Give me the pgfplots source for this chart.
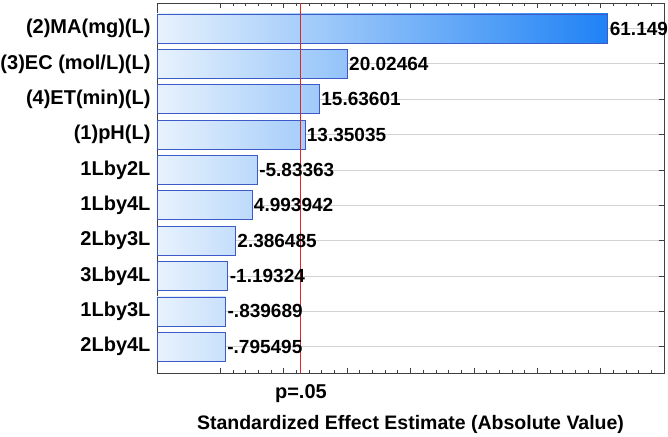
\documentclass[border=0pt]{standalone}
\usepackage{pgfplots}
\pgfplotsset{compat=1.18}
\usepackage{fontspec}
\setmainfont{Liberation Sans}
\definecolor{bleft}{RGB}{232,242,253}
\definecolor{bend}{RGB}{30,130,245}
\definecolor{bedge}{RGB}{60,90,200}
\definecolor{pline}{RGB}{220,40,40}
\newcommand\lfont{\fontsize{19}{22}\selectfont\bfseries}
\newcommand\tfont{\fontsize{20}{23}\selectfont\bfseries}
% #1 value (abs), #2 category position, #3 gradient percent, #4 label
\newcommand\effbar[4]{%
  \addplot[xbar, bar width=29pt, bar shift=0pt, draw=bedge, line width=0.9pt,
    left color=bleft, right color=bend!#3!bleft,
    point meta=explicit symbolic, nodes near coords,
    every node near coord/.append style={font=\lfont, text=black, anchor=west, inner sep=1.5pt}]
    table[x expr=\thisrow{v}+10, y=y, meta=lab, row sep=\\]{v y lab\\ #1 #2 #4\\};}
\begin{document}
\begin{tikzpicture}
\begin{axis}[at={(0,0)}, anchor=south west, scale only axis,
  width=507pt, height=370pt,
  xmin=0, xmax=80, ymin=-0.74, ymax=9.72,
  xtick={10,20,...,80}, xticklabels={}, minor x tick num=4,
  ytick={0,...,9},
  yticklabels={2Lby4L,1Lby3L,3Lby4L,2Lby3L,1Lby4L,1Lby2L,(1)pH(L),(4)ET(min)(L),(3)EC (mol/L)(L),(2)MA(mg)(L)},
  ymajorgrids, major grid style={gray!35, line width=0.8pt},
  tick align=inside, major tick length=5pt, minor tick length=3pt,
  tick style={black!75, line width=0.7pt},
  axis line style={black!75, line width=0.9pt},
  extra x ticks={22.706}, extra x tick labels={p=.05},
  extra x tick style={tick style={draw=none}},
  yticklabel style={font=\tfont, xshift=-3pt},
  xticklabel style={font=\tfont, yshift=-8pt},
  xlabel style={font=\fontsize{19.5}{22}\selectfont\bfseries, yshift=-6pt},
  xlabel={Standardized Effect Estimate (Absolute Value)},
  clip=false,
]
\effbar{61.14951}{9}{100}{61.14951}
\effbar{20.02464}{8}{42.2}{20.02464}
\effbar{15.63601}{7}{36.0}{15.63601}
\effbar{13.35035}{6}{32.8}{13.35035}
\effbar{5.83363}{5}{22.3}{-5.83363}
\effbar{4.993942}{4}{21.1}{4.993942}
\effbar{2.386485}{3}{17.4}{2.386485}
\effbar{1.19324}{2}{15.7}{-1.19324}
\effbar{0.839689}{1}{15.2}{-.839689}
\effbar{0.795495}{0}{15.2}{-.795495}
\addplot[pline, line width=1.2pt] table[x expr=\thisrow{v}+10, y=y, row sep=\\]{v y\\ 12.706 -0.74\\ 12.706 9.72\\};
\end{axis}
\pgfresetboundingbox
\path[use as bounding box] (-157pt,-63pt) rectangle (511pt,373pt);
\end{tikzpicture}
\end{document}
